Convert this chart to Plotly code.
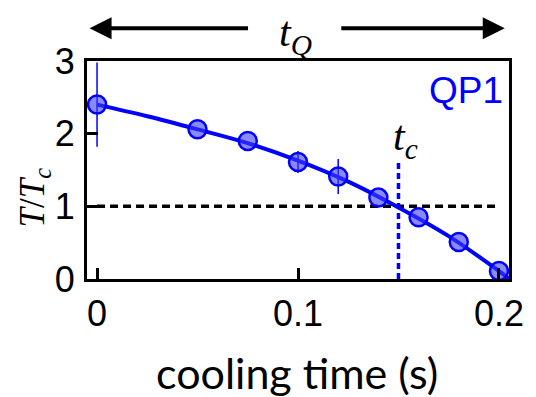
import plotly.graph_objects as go

# data
t_pts = [0.0, 0.05, 0.075, 0.10, 0.12, 0.14, 0.16, 0.18, 0.20]
T_pts = [2.40, 2.06, 1.90, 1.61, 1.41, 1.12, 0.85, 0.51, 0.11]
T_err = [0.58, 0.0, 0.0, 0.15, 0.24, 0.0, 0.0, 0.0, 0.0]

fit_t = [0.0, 0.025, 0.05, 0.075, 0.10, 0.125, 0.15, 0.175, 0.20, 0.21]
fit_T = [2.40, 2.24, 2.06, 1.87, 1.63, 1.34, 0.985, 0.59, 0.11, -0.10]

t_c = 0.15
dash_x = [0.0, 0.2]
dash_y = [1.0, 1.0]
tc_y = [0.0, 1.6]

x_ticks = [0, 0.1, 0.2]
x_ticktext = ["0", "0.1", "0.2"]
y_ticks = [0, 1, 2, 3]
y_ticktext = ["0", "1", "2", "3"]

BLUE = "#0000ff"

fig = go.Figure()
fig.add_trace(go.Scatter(x=dash_x, y=dash_y, mode="lines",
                         line=dict(color="black", width=3.5, dash="8px,5px"),
                         hoverinfo="skip"))
fig.add_trace(go.Scatter(x=[t_c, t_c], y=tc_y, mode="lines",
                         line=dict(color=BLUE, width=3.5, dash="6px,4px"),
                         hoverinfo="skip"))
fig.add_trace(go.Scatter(x=fit_t, y=fit_T, mode="lines", line_shape="spline",
                         line=dict(color=BLUE, width=4)))
fig.add_trace(go.Scatter(x=t_pts, y=T_pts, mode="markers",
                         error_y=dict(type="data", array=T_err, color=BLUE,
                                      thickness=1.5, width=0),
                         marker=dict(size=18, color="rgba(60,60,255,0.6)",
                                     line=dict(color=BLUE, width=2.5))))

axis_common = dict(showgrid=False, zeroline=False, showline=True, linecolor="black",
                   linewidth=3, mirror=True, ticks="inside", ticklen=11,
                   tickwidth=3, tickcolor="black",
                   tickfont=dict(family="Liberation Sans, Arial", size=36, color="black"))

# the page body has an 8px margin, so the figure is 8px smaller and margins shifted
fig.update_layout(
    width=528, height=389,
    margin=dict(l=79, r=16, t=53, b=118),
    paper_bgcolor="white", plot_bgcolor="white",
    showlegend=False,
    xaxis=dict(range=[-0.005, 0.205], tickvals=x_ticks, ticktext=x_ticktext,
               ticklabelstandoff=1, **axis_common),
    yaxis=dict(range=[0, 3], tickvals=y_ticks, ticktext=y_ticktext,
               ticklabelstandoff=2, **axis_common),
)

ann = []
# axis titles
ann.append(dict(text="cooling time (s)", xref="paper", yref="paper", x=0.4965, y=-0.43,
                showarrow=False, font=dict(family="Lato", size=43, color="black"),
                xanchor="center", yanchor="middle"))
ann.append(dict(text="<i>T</i>/<i>T</i><sub><i>c</i></sub>",
                xref="paper", yref="paper",
                x=-0.125, y=0.375, textangle=-90, showarrow=False,
                font=dict(family="Liberation Serif", size=35, color="black"),
                xanchor="center", yanchor="middle"))
# QP1 label
ann.append(dict(text="QP1", xref="paper", yref="paper", x=0.99, y=0.865,
                showarrow=False, font=dict(family="Liberation Sans, Arial", size=37, color=BLUE),
                xanchor="right", yanchor="middle"))
# t_c label
ann.append(dict(text="<i>t</i><sub><i>c</i></sub>",
                x=0.1535, y=1.93, xref="x", yref="y",
                showarrow=False, font=dict(family="Liberation Serif", size=42, color="black"),
                xanchor="center", yanchor="middle"))
# t_Q label and arrows
ann.append(dict(text="<i>t</i><sub><i>Q</i></sub>",
                xref="paper", yref="paper", x=0.495, y=1.12,
                showarrow=False, font=dict(family="Liberation Serif", size=42, color="black"),
                xanchor="center", yanchor="middle"))
ann.append(dict(text="", xref="paper", yref="paper", x=0.006, y=1.15, ax=160, ay=0,
                showarrow=True, arrowhead=2, arrowsize=1.1, arrowwidth=4, arrowcolor="black",
                standoff=0, startstandoff=0))
ann.append(dict(text="", xref="paper", yref="paper", x=0.99, y=1.15, ax=-165, ay=0,
                showarrow=True, arrowhead=2, arrowsize=1.1, arrowwidth=4, arrowcolor="black",
                standoff=0, startstandoff=0))
fig.update_layout(annotations=ann)

fig.write_html("out.html")
